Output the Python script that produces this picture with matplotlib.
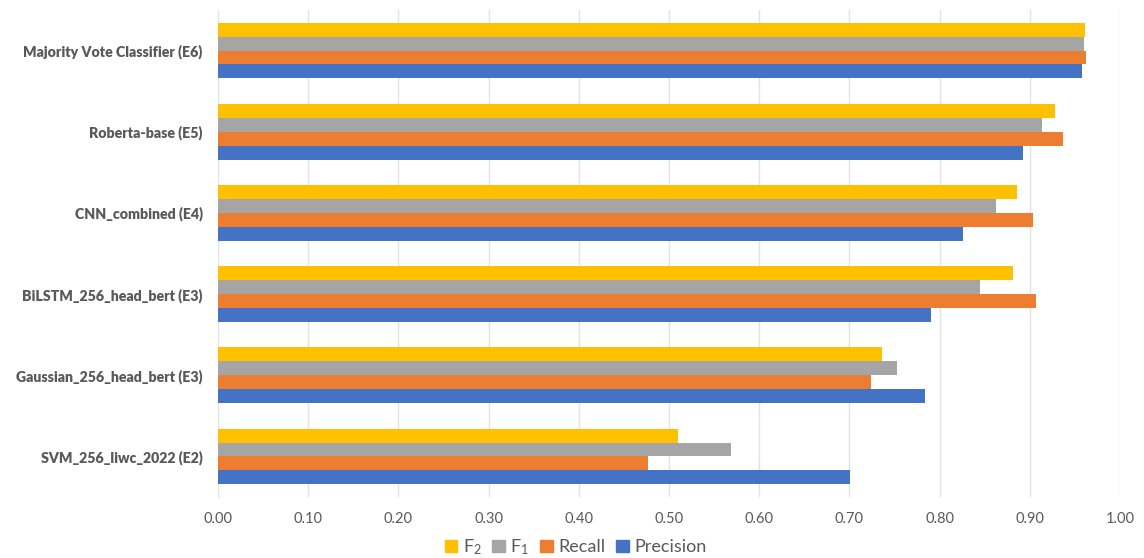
import matplotlib
matplotlib.use("Agg")
import matplotlib.pyplot as plt
import numpy as np
from matplotlib.patches import Patch

categories = ["Majority Vote Classifier (E6)", "Roberta-base (E5)", "CNN_combined (E4)",
              "BiLSTM_256_head_bert (E3)", "Gaussian_256_head_bert (E3)", "SVM_256_liwc_2022 (E2)"]
f2 = [0.961, 0.928, 0.886, 0.881, 0.736, 0.510]
f1 = [0.960, 0.914, 0.863, 0.845, 0.753, 0.569]
recall = [0.962, 0.937, 0.903, 0.907, 0.724, 0.477]
precision = [0.958, 0.893, 0.826, 0.791, 0.784, 0.701]
xticks = [0.0, 0.1, 0.2, 0.3, 0.4, 0.5, 0.6, 0.7, 0.8, 0.9, 1.0]

plt.rcParams['font.family'] = ['Lato', 'DejaVu Sans']
txt = '#595959'

fig = plt.figure(figsize=(11.44, 5.58), dpi=100)
ax = fig.add_axes([218/1144, 1 - 497/558, (1120-218)/1144, (497-10)/558])

n = len(categories)
y = np.arange(n)
h = 0.171
series = [(f2, '#FFC000'), (f1, '#A5A5A5'), (recall, '#ED7D31'), (precision, '#4472C4')]
for i, (vals, col) in enumerate(series):
    ax.barh(y + (i - 1.5) * h, vals, height=h, color=col, zorder=3)

ax.set_ylim(n - 0.5, -0.5)
ax.set_xlim(0, 1.0)
ax.set_xticks(xticks)
ax.set_xticklabels([f"{v:.2f}" for v in xticks], color=txt, fontsize=10.5)
ax.set_yticks(y)
ax.set_yticklabels(categories, color=txt, fontsize=10.2, fontweight='heavy')
ax.tick_params(axis='x', length=0, pad=11)
ax.tick_params(axis='y', length=0, pad=11)
ax.grid(axis='x', color='#E3E3E3', linewidth=1, zorder=0)
for s in ['top', 'right', 'bottom']:
    ax.spines[s].set_visible(False)
ax.spines['left'].set_color('#E3E3E3')

handles = [Patch(color=c) for _, c in series]
labels = [r'$\mathregular{F_2}$', r'$\mathregular{F_1}$', 'Recall', 'Precision']
fig.legend(handles, labels, loc='center', bbox_to_anchor=(0.503, 1 - 547/558), ncol=4,
           frameon=False, fontsize=13, handlelength=0.7, handleheight=0.7,
           handletextpad=0.3, columnspacing=0.6, labelcolor=txt)

fig.savefig("out.png", dpi=100)
